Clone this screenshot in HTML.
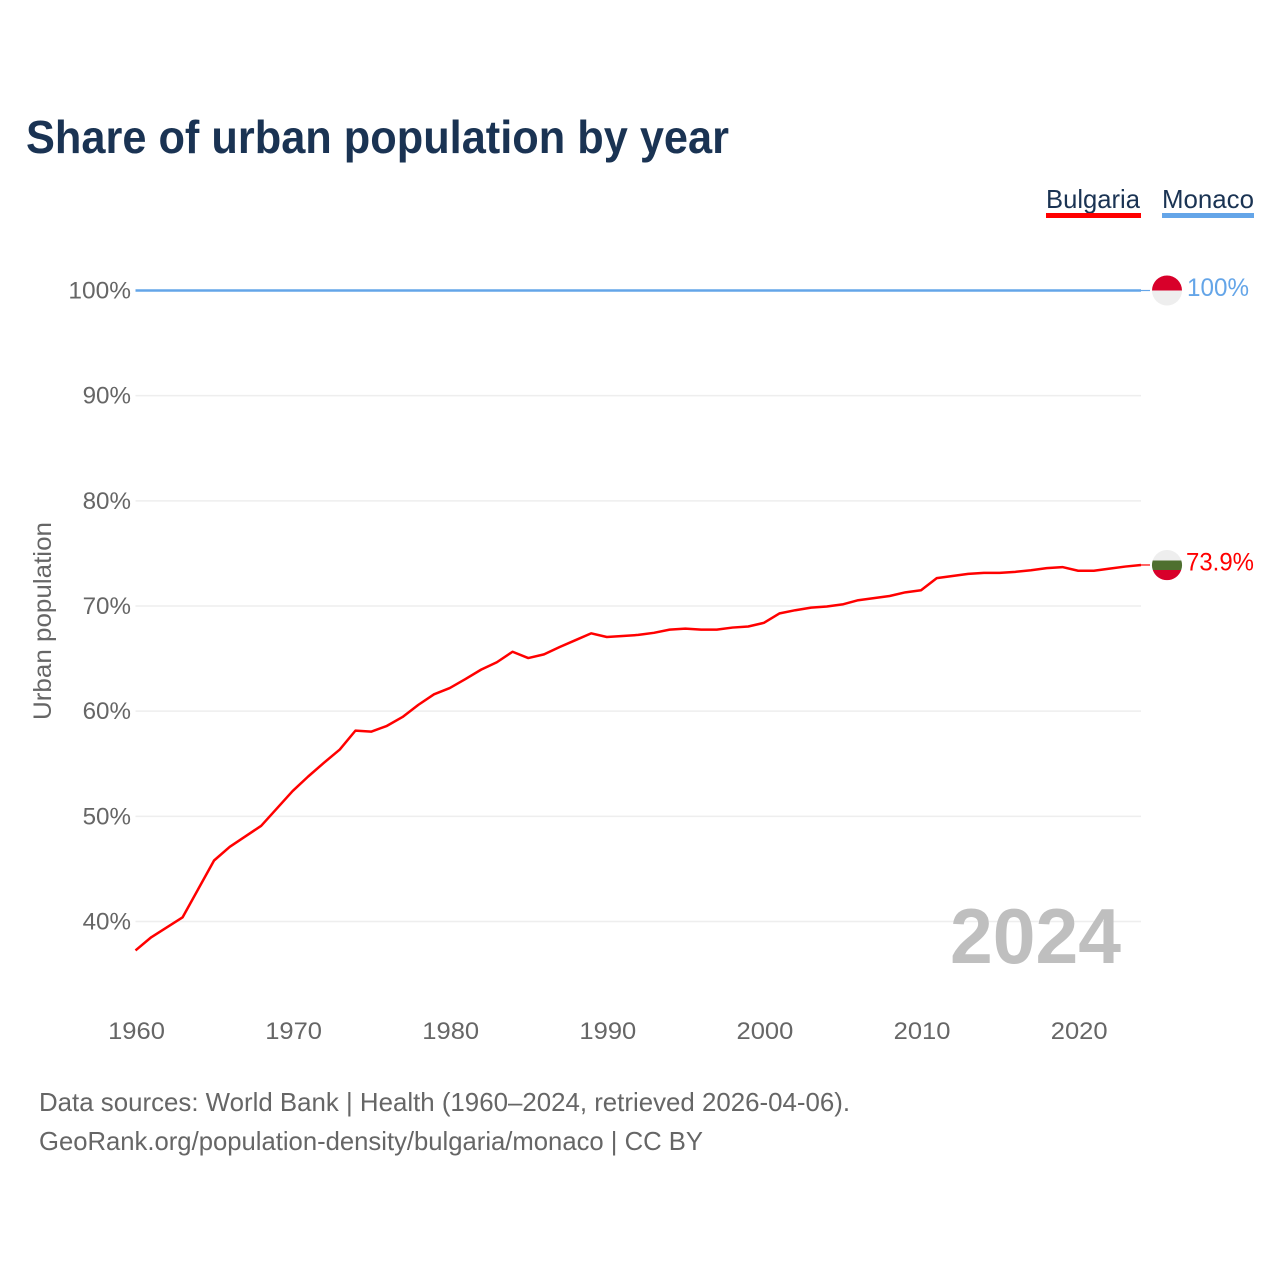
<!DOCTYPE html>
<html lang="en">
<head>
<meta charset="utf-8">
<title>Share of urban population by year</title>
<style>
  html, body { margin: 0; padding: 0; background: #fff; }
  svg { display: block; font-family: "Liberation Sans", "DejaVu Sans", sans-serif; }
</style>
</head>
<body>
<svg id="chart" xmlns="http://www.w3.org/2000/svg" width="1280" height="1280" viewBox="0 0 1280 1280">
  <rect width="1280" height="1280" fill="#ffffff"/>
  <text x="26" y="153" font-size="46" font-weight="700" fill="#1a3353" textLength="703" lengthAdjust="spacingAndGlyphs">Share of urban population by year</text>

  <g>
    <g>
      <text x="1046" y="208" font-size="26" fill="#1a3353" textLength="94" lengthAdjust="spacingAndGlyphs">Bulgaria</text>
      <rect x="1046" y="213" width="95" height="5" fill="#ff0000"/>
    </g>
    <g>
      <text x="1162" y="208" font-size="26" fill="#1a3353" textLength="92" lengthAdjust="spacingAndGlyphs">Monaco</text>
      <rect x="1162" y="213" width="92" height="5" fill="#64a5e8"/>
    </g>
  </g>

  <g id="grid"></g>
  <g id="yticks"></g>
  <g id="xticks"></g>
  <text transform="translate(51 621) rotate(-90)" text-anchor="middle" font-size="25" fill="#666666" textLength="198" lengthAdjust="spacingAndGlyphs">Urban population</text>

  <text x="1121" y="963" text-anchor="end" font-size="78" font-weight="700" fill="#bfbfbf" textLength="171" lengthAdjust="spacingAndGlyphs">2024</text>

  <g id="series"></g>
  <g id="ends"></g>

  <g>
    <text x="39" y="1111" font-size="26" fill="#666666" textLength="811" lengthAdjust="spacingAndGlyphs">Data sources: World Bank | Health (1960–2024, retrieved 2026-04-06).</text>
    <text x="39" y="1150" font-size="26" fill="#666666" textLength="664" lengthAdjust="spacingAndGlyphs">GeoRank.org/population-density/bulgaria/monaco | CC BY</text>
  </g>
</svg>
<script>
const years = [1960,1961,1962,1963,1964,1965,1966,1967,1968,1969,1970,1971,1972,1973,1974,1975,1976,1977,1978,1979,1980,1981,1982,1983,1984,1985,1986,1987,1988,1989,1990,1991,1992,1993,1994,1995,1996,1997,1998,1999,2000,2001,2002,2003,2004,2005,2006,2007,2008,2009,2010,2011,2012,2013,2014,2015,2016,2017,2018,2019,2020,2021,2022,2023,2024];
const bulgaria = [37.25,38.5,39.45,40.4,43.1,45.8,47.1,48.1,49.1,50.75,52.4,53.8,55.1,56.35,58.15,58.05,58.6,59.45,60.6,61.6,62.2,63.05,63.95,64.65,65.65,65.05,65.4,66.1,66.75,67.4,67.05,67.15,67.25,67.45,67.75,67.85,67.75,67.75,67.95,68.05,68.4,69.3,69.6,69.85,69.95,70.15,70.55,70.75,70.95,71.3,71.5,72.65,72.85,73.05,73.15,73.15,73.25,73.4,73.6,73.7,73.35,73.35,73.55,73.75,73.9];
const monaco = [100,100,100,100,100,100,100,100,100,100,100,100,100,100,100,100,100,100,100,100,100,100,100,100,100,100,100,100,100,100,100,100,100,100,100,100,100,100,100,100,100,100,100,100,100,100,100,100,100,100,100,100,100,100,100,100,100,100,100,100,100,100,100,100,100];
const yTickValues = [100,90,80,70,60,50,40];
const yTickLabels = ["100%","90%","80%","70%","60%","50%","40%"];
const xTickValues = [1960,1970,1980,1990,2000,2010,2020];
const xTickLabels = ["1960","1970","1980","1990","2000","2010","2020"];

const NS = "http://www.w3.org/2000/svg";
function xScale(year) { return 135.5 + (year - 1960) * (1141 - 135.5) / 64; }
function yScale(pct) { return 290.5 + (100 - pct) * (921.5 - 290.5) / 60; }
function make(tag, attrs, parent) {
  const el = document.createElementNS(NS, tag);
  for (const k in attrs) el.setAttribute(k, attrs[k]);
  parent.appendChild(el);
  return el;
}
function labelWidth(s) {
  let w = 0;
  for (const c of s) w += c === "%" ? 20 : c === "." ? 6.5 : 14.2;
  return w;
}
function linePoints(vals) {
  return vals.map((v, i) => xScale(years[i]).toFixed(2) + "," + yScale(v).toFixed(2)).join(" ");
}

const grid = document.getElementById("grid");
const yticks = document.getElementById("yticks");
const xticks = document.getElementById("xticks");
const series = document.getElementById("series");
const ends = document.getElementById("ends");

yTickValues.forEach((v, i) => {
  const y = yScale(v);
  const g = make("line", { x1: 135.5, x2: 1141, y1: y, y2: y, stroke: "#eeeeee", "stroke-width": 1.5 }, grid);
  
  
  const t = make("text", { x: 131, y: y + 8, "text-anchor": "end", "font-size": 24, fill: "#666666", textLength: labelWidth(yTickLabels[i]), lengthAdjust: "spacingAndGlyphs" }, yticks);
  
  
  t.textContent = yTickLabels[i];
});

xTickValues.forEach((v, i) => {
  const t = make("text", { x: xScale(v) + 1, y: 1039, "text-anchor": "middle", "font-size": 24, fill: "#666666", textLength: labelWidth(xTickLabels[i]), lengthAdjust: "spacingAndGlyphs" }, xticks);
  
  
  t.textContent = xTickLabels[i];
});

const monacoLine = make("polyline", { points: linePoints(monaco), fill: "none", stroke: "#64a5e8", "stroke-width": 2.5, "stroke-linejoin": "round" }, series);


const bulgariaLine = make("polyline", { points: linePoints(bulgaria), fill: "none", stroke: "#ff0000", "stroke-width": 2.5, "stroke-linejoin": "round" }, series);



const monacoEnd = yScale(monaco[monaco.length - 1]);
const bulgariaEnd = yScale(bulgaria[bulgaria.length - 1]);

const leaderM = make("line", { x1: 1141, x2: 1150, y1: monacoEnd, y2: monacoEnd, stroke: "#64a5e8", "stroke-width": 1.2 }, ends);


const leaderB = make("line", { x1: 1141, x2: 1150, y1: bulgariaEnd, y2: bulgariaEnd, stroke: "#ff0000", "stroke-width": 1.2 }, ends);



const flagM = make("g", { transform: "translate(1167 " + monacoEnd + ")" }, ends);


make("path", { d: "M-15 0A15 15 0 0 1 15 0Z", fill: "#d8002a" }, flagM);
make("path", { d: "M-15 0A15 15 0 0 0 15 0Z", fill: "#eeeeee" }, flagM);

const flagB = make("g", { transform: "translate(1167 " + bulgariaEnd + ")" }, ends);


make("circle", { r: 15, fill: "#eeeeee" }, flagB);
make("path", { d: "M-14.3 -4.5H14.3A15 15 0 0 1 14.2 5H-14.2A15 15 0 0 1 -14.3 -4.5Z", fill: "#4e702f" }, flagB);
make("path", { d: "M-14.2 5H14.2A15 15 0 0 1 -14.2 5Z", fill: "#d8002a" }, flagB);

const valueM = make("text", { x: 1187, y: monacoEnd + 5.5, "font-size": 25, fill: "#64a5e8", textLength: 62, lengthAdjust: "spacingAndGlyphs" }, ends);


valueM.textContent = "100%";
const valueB = make("text", { x: 1186, y: bulgariaEnd + 5.5, "font-size": 25, fill: "#ff0000", textLength: 68, lengthAdjust: "spacingAndGlyphs" }, ends);


valueB.textContent = "73.9%";
</script>
</body>
</html>
